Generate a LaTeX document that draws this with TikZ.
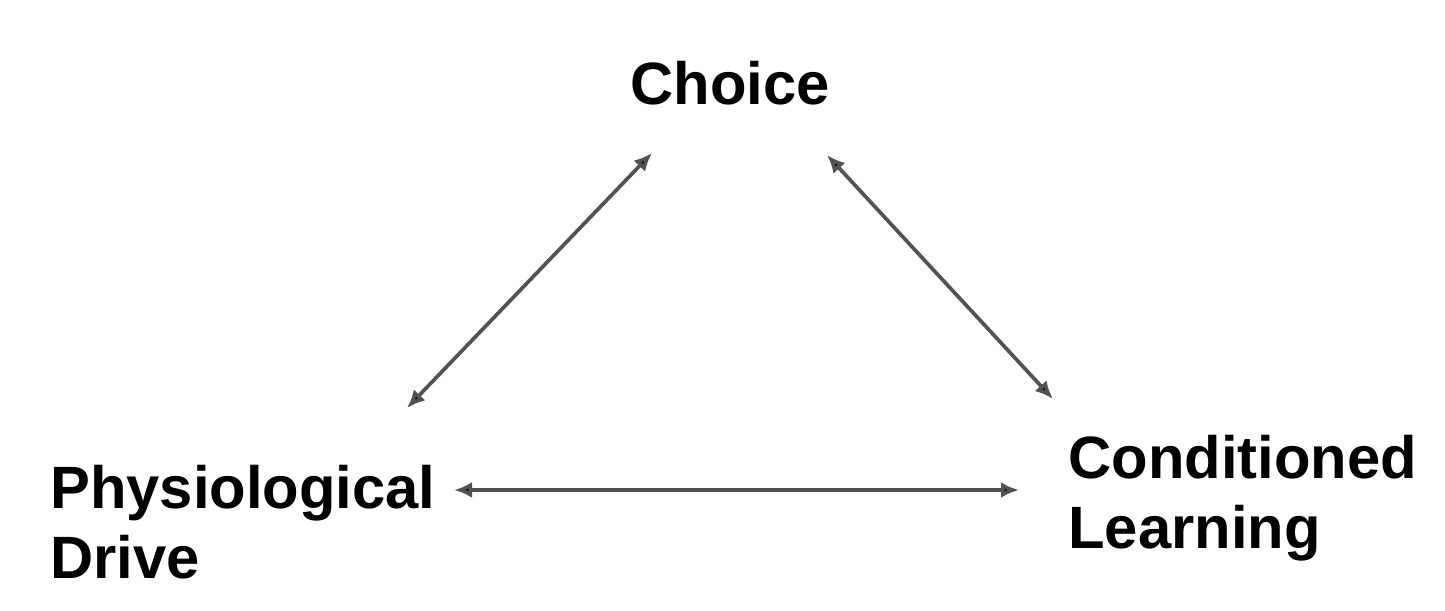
\documentclass[tikz,border=0pt]{standalone}
\usepackage{fontspec}
\setmainfont{Liberation Sans}
\usetikzlibrary{arrows.meta,positioning}

\begin{document}
\begin{tikzpicture}[
  lbl/.style={font=\fontsize{34}{40}\selectfont\bfseries, inner sep=0pt, align=left},
  arr/.style={{Latex[length=0.36cm,width=0.32cm,fill=black]}-{Latex[length=0.36cm,width=0.32cm,fill=black]},
              draw=black!68, line width=2.1pt}
]
\useasboundingbox (0,0) rectangle (28.9,12.2);
\node[lbl, anchor=base]       (choice) at (14.6, 10.1)  {Choice};
\node[lbl, anchor=north west] (phys)   at (1.0,  2.9)   {Physiological\\Drive};
\node[lbl, anchor=north west] (cond)   at (21.36, 3.5)  {Conditioned\\Learning};
\draw[arr] ([shift={(-1.56,-0.96)}]choice.base) -- ([shift={(7.14,1.14)}]phys.north west);
\draw[arr] ([shift={(1.94,-1.0)}]choice.base)   -- ([shift={(-0.3,0.72)}]cond.north west);
\draw[arr] ([shift={(8.08,-0.5)}]phys.north west) -- ([shift={(-0.98,-1.1)}]cond.north west);
\end{tikzpicture}
\end{document}
